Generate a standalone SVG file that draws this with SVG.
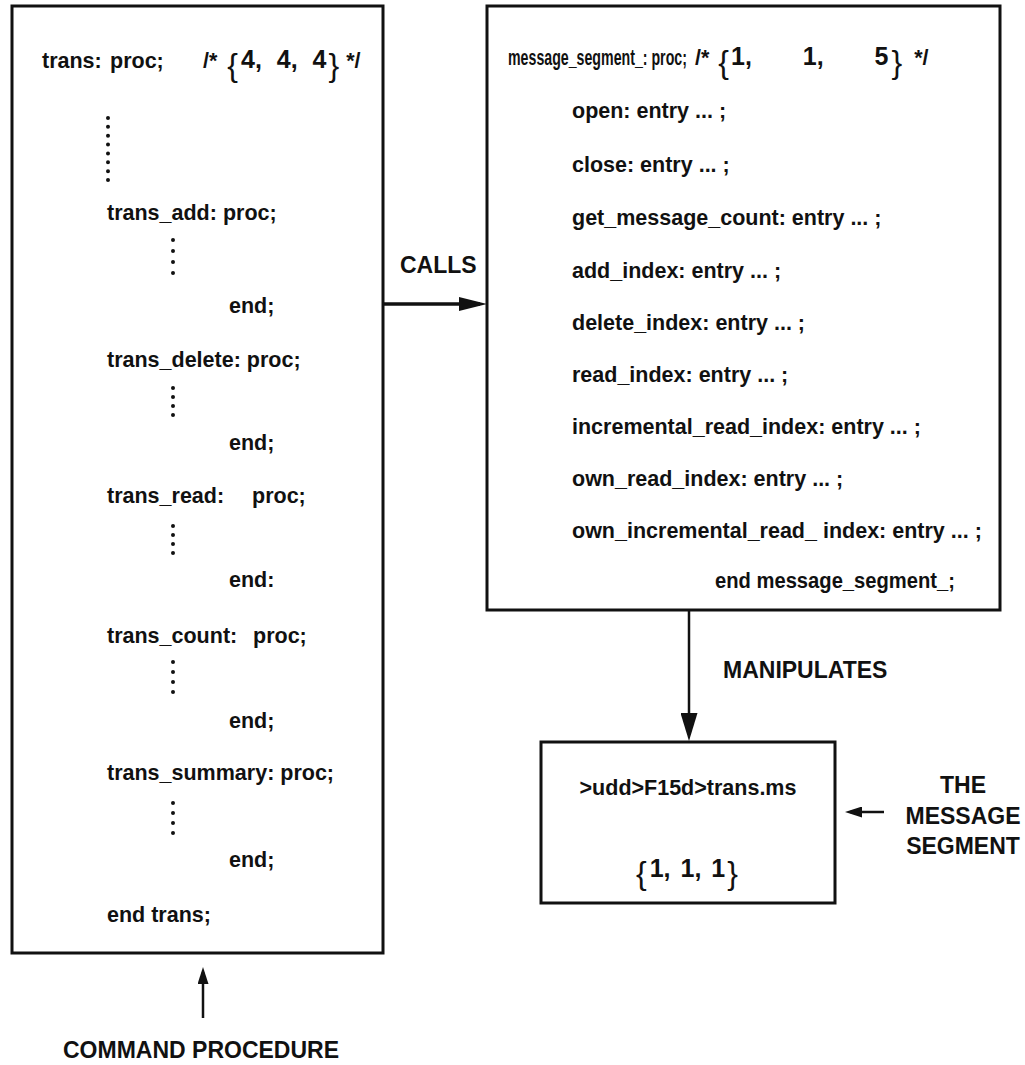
<svg xmlns="http://www.w3.org/2000/svg" width="1025" height="1065" viewBox="0 0 1025 1065">
<style>
.box{fill:#fff;stroke:#111;stroke-width:3}
.code{font-family:"Liberation Sans",Arial,sans-serif;font-weight:bold;font-size:21.5px;fill:#111}
.num{font-family:"Liberation Sans",Arial,sans-serif;font-weight:bold;font-size:25px}
.brace{font-family:"Liberation Sans",Arial,sans-serif;font-weight:normal;font-size:32px}
.label{font-family:"Liberation Sans",Arial,sans-serif;font-weight:bold;font-size:23px;fill:#111}
.dots{stroke:#111;stroke-width:4;stroke-linecap:round;fill:none}
.conn{stroke:#111;fill:none}
</style>
<defs>
<marker id="headBig" markerUnits="userSpaceOnUse" markerWidth="28" markerHeight="14" refX="21" refY="7" orient="auto">
<path d="M0,0 L28,7 L0,14 z" fill="#111"/>
</marker>
<marker id="headMid" markerUnits="userSpaceOnUse" markerWidth="28" markerHeight="17" refX="22" refY="8.5" orient="auto">
<path d="M0,0 L28,8.5 L0,17 z" fill="#111"/>
</marker>
<marker id="headSmall" markerUnits="userSpaceOnUse" markerWidth="17" markerHeight="11" refX="12" refY="5.5" orient="auto">
<path d="M0,0 L17,5.5 L0,11 z" fill="#111"/>
</marker>
</defs>
<rect width="1025" height="1065" fill="#fff"/>

<g id="command-procedure">
<rect class="box" x="12" y="6" width="371" height="947"/>
<text class="code" y="68"><tspan x="42">trans:</tspan><tspan x="110">proc;</tspan></text>
<text class="code" x="203" y="68">/*<tspan class="brace" dx="10" dy="8">{</tspan><tspan class="num" dx="3" dy="-8" word-spacing="8">4, 4, 4</tspan><tspan class="brace" dx="2" dy="8">}</tspan><tspan dx="7" dy="-8">*/</tspan></text>
<line class="dots" x1="108" y1="118" x2="108" y2="180" stroke-dasharray="0 8.857"/>
<text class="code" x="107" y="220">trans_add: proc;</text>
<line class="dots" x1="173" y1="240" x2="173" y2="284" stroke-dasharray="0 11"/>
<text class="code" x="229" y="313">end;</text>
<text class="code" x="107" y="367">trans_delete: proc;</text>
<line class="dots" x1="173" y1="388" x2="173" y2="424" stroke-dasharray="0 9"/>
<text class="code" x="229" y="450">end;</text>
<text class="code" y="503"><tspan x="107">trans_read:</tspan><tspan x="252">proc;</tspan></text>
<line class="dots" x1="173" y1="526" x2="173" y2="562" stroke-dasharray="0 9"/>
<text class="code" x="229" y="587">end:</text>
<text class="code" y="643"><tspan x="107">trans_count:</tspan><tspan x="253">proc;</tspan></text>
<line class="dots" x1="173" y1="662" x2="173" y2="702" stroke-dasharray="0 10"/>
<text class="code" x="229" y="728">end;</text>
<text class="code" x="107" y="780">trans_summary: proc;</text>
<line class="dots" x1="173" y1="803" x2="173" y2="843" stroke-dasharray="0 10"/>
<text class="code" x="229" y="867">end;</text>
<text class="code" x="107" y="922">end trans;</text>
</g>

<g id="message-segment-proc">
<rect class="box" x="487" y="6" width="513" height="604"/>
<text class="code" transform="translate(508,65) scale(0.66,1)" x="0" y="0">message_segment_: proc;</text>
<text class="code" x="695" y="65">/*<tspan class="brace" dx="9" dy="8">{</tspan><tspan class="num" dx="2" dy="-8" word-spacing="44">1, 1, 5</tspan><tspan class="brace" dx="3" dy="8">}</tspan><tspan dx="12" dy="-8">*/</tspan></text>
<text class="code" x="572" y="118">open:  entry ... ;</text>
<text class="code" x="572" y="172">close:  entry ... ;</text>
<text class="code" x="572" y="225">get_message_count: entry ... ;</text>
<text class="code" x="572" y="278">add_index:  entry ... ;</text>
<text class="code" x="572" y="330">delete_index:  entry ... ;</text>
<text class="code" x="572" y="382">read_index:  entry ... ;</text>
<text class="code" x="572" y="434">incremental_read_index:  entry ... ;</text>
<text class="code" x="572" y="486">own_read_index:  entry ... ;</text>
<text class="code" x="572" y="538">own_incremental_read_ index: entry ... ;</text>
<text class="code" x="715" y="588" textLength="240" lengthAdjust="spacingAndGlyphs">end message_segment_;</text>
</g>

<g id="message-segment-file">
<rect class="box" x="541" y="742" width="294" height="161"/>
<text class="code" x="688" y="795" text-anchor="middle">&gt;udd&gt;F15d&gt;trans.ms</text>
<text class="code" x="636" y="884"><tspan class="brace">{</tspan><tspan class="num" dx="3" dy="-7" word-spacing="3">1, 1, 1</tspan><tspan class="brace" dx="2" dy="7">}</tspan></text>
</g>

<g id="labels">
<text class="label" x="400" y="273">CALLS</text>
<text class="label" x="723" y="678">MANIPULATES</text>
<text class="label" text-anchor="middle"><tspan x="963" y="793">THE</tspan><tspan x="963" y="824">MESSAGE</tspan><tspan x="963" y="854">SEGMENT</tspan></text>
<text class="label" x="63" y="1058">COMMAND  PROCEDURE</text>
</g>

<g id="connectors">
<line class="conn" x1="384" y1="304" x2="480" y2="304" stroke-width="3.5" marker-end="url(#headBig)"/>
<line class="conn" x1="689" y1="611" x2="689" y2="735" stroke-width="2.5" marker-end="url(#headMid)"/>
<line class="conn" x1="884" y1="812" x2="850" y2="812" stroke-width="2.5" marker-end="url(#headSmall)"/>
<line class="conn" x1="203" y1="1018" x2="203" y2="972" stroke-width="2.5" marker-end="url(#headSmall)"/>
</g>
</svg>
